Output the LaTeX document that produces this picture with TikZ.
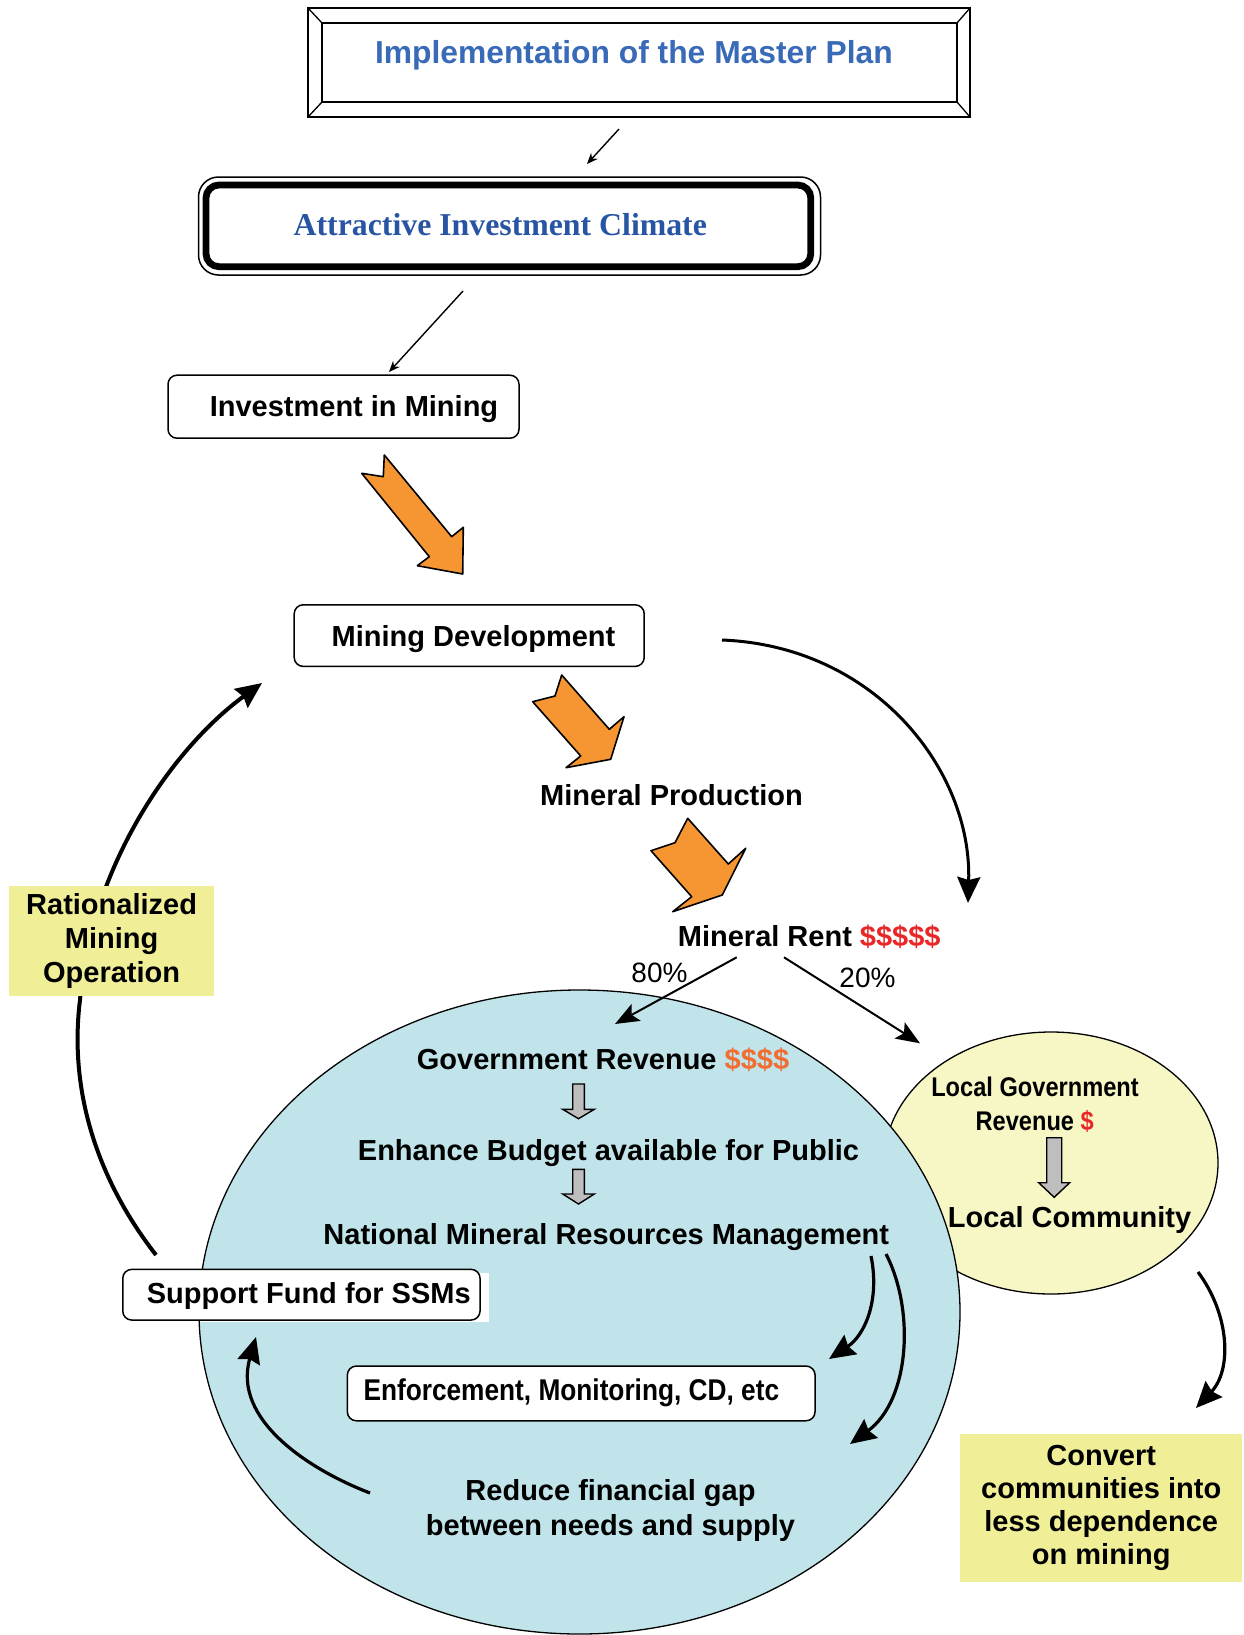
\documentclass[tikz,border=0pt]{standalone}
\usepackage{fontspec}
\setmainfont{Liberation Sans}
\newfontfamily\timesfont{Liberation Serif}
\newfontfamily\narrowfont{Liberation Sans}[FakeStretch=0.875]
\usetikzlibrary{arrows.meta,shapes.geometric}

\definecolor{titleblue}{RGB}{57,106,184}
\definecolor{climateblue}{RGB}{40,84,164}
\definecolor{flowor}{RGB}{245,150,50}
\definecolor{rentred}{RGB}{232,40,40}
\definecolor{revor}{RGB}{240,110,50}
\definecolor{poolblue}{RGB}{192,228,234}
\definecolor{localyel}{RGB}{247,246,197}
\definecolor{tagyel}{RGB}{240,239,152}
\definecolor{blockgray}{RGB}{190,190,190}

\tikzset{
  txt/.style={font=\fontsize{29}{34}\selectfont\bfseries, inner sep=0pt, align=center},
  pct/.style={font=\fontsize{28}{32}\selectfont, inner sep=0pt},
  narrow/.style={font=\narrowfont\bfseries\fontsize{27}{32}\selectfont, inner sep=0pt},
  rbox/.style={draw, line width=1.5pt, rounded corners=9pt, fill=white, inner sep=0pt},
  tag/.style={fill=tagyel, inner sep=0pt, align=center, font=\fontsize{29}{34}\selectfont\bfseries},
  thinarr/.style={line width=1.4pt, -{Stealth[length=11pt,width=9pt]}},
  pctarr/.style={line width=2pt, -{Stealth[length=24pt,width=19pt,inset=5pt]}},
  bigarr/.style={line width=3.2pt, -{Stealth[length=26pt,width=23pt,inset=3pt]}},
  flowblock/.style={draw, line width=1.6pt, fill=flowor, line join=round},
  grayblock/.style={draw, line width=1.4pt, fill=blockgray, line join=miter},
}

\begin{document}
\begin{tikzpicture}[x=1pt,y=-1pt]
\useasboundingbox (0,0) rectangle (1243,1635);

% ---- revenue pools ----
\node[ellipse, draw, line width=1.3pt, fill=localyel, inner sep=0pt,
      minimum width=334pt, minimum height=262pt] (local) at (1051,1163) {};
\node[ellipse, draw, line width=1.3pt, fill=poolblue, inner sep=0pt,
      minimum width=761pt, minimum height=644pt] (govt) at (579.5,1312) {};

% ---- bevelled title frame ----
\draw[line width=2.2pt, fill=white] (308,8) rectangle (970,117);
\draw[line width=2.2pt] (322,23) rectangle (957,102);
\draw[line width=1.3pt] (308,8) -- (322,23) (970,8) -- (957,23)
                        (308,117) -- (322,102) (970,117) -- (957,102);
\node[inner sep=0pt, anchor=base, text=titleblue,
      font=\fontsize{31.8}{36}\selectfont\bfseries] (plan) at (633.9,63.3)
      {Implementation of the Master Plan};

% ---- investment climate frame ----
\draw[line width=1.5pt, rounded corners=20pt] (198.5,177) rectangle (820.5,275);
\draw[line width=6.8pt, rounded corners=13pt] (206,185) rectangle (810.8,266.7);
\node[inner sep=0pt, anchor=base, text=climateblue,
      font=\timesfont\bfseries\fontsize{31.8}{36}\selectfont] (climate) at (500.3,235)
      {Attractive Investment Climate};

% ---- boxes ----
\node[rbox, minimum width=351pt, minimum height=63pt] (invbox) at (343.5,406.7) {};
\node[txt, anchor=base] (inv) at (354,416) {Investment in Mining};

\node[rbox, minimum width=350pt, minimum height=61.6pt] (devbox) at (469.2,635.6) {};
\node[txt, anchor=base] (dev) at (473.5,646.5) {Mining Development};

\node[txt, anchor=base west] (prod) at (540,805) {Mineral Production};
\node[txt, anchor=base west] (rent) at (677.7,946)
      {Mineral Rent \textcolor{rentred}{\$\$\$\$\$}};

\node[pct, anchor=base] (p80) at (659.5,982.7) {80\%};
\node[pct, anchor=base] (p20) at (867.5,987.3) {20\%};

% ---- inside the government pool ----
\node[txt, anchor=base west] (gov) at (416.7,1069.3)
      {Government Revenue \textcolor{revor}{\$\$\$\$}};
\node[txt, anchor=base] (budget) at (608.5,1160) {Enhance Budget available for Public};
\node[txt, anchor=base] (nmrm) at (606.3,1244) {National Mineral Resources Management};

\fill[white] (200,1272.7) rectangle (489,1321.7);
\node[rbox, minimum width=357.3pt, minimum height=50.7pt] (ssmbox) at (301.4,1294.7) {};
\node[txt, anchor=base west] (ssm) at (146.7,1303.3) {Support Fund for SSMs};

\node[rbox, minimum width=467.7pt, minimum height=54.7pt] (enfbox) at (581.2,1393.4) {};
\node[narrow, anchor=base west, font=\narrowfont\bfseries\fontsize{30}{34}\selectfont]
      (enf) at (363.3,1400) {Enforcement, Monitoring, CD, etc};

\node[txt, font=\fontsize{29}{34.3}\selectfont\bfseries] (gap) at (610.5,1510.4)
      {Reduce financial gap\\between needs and supply};

% ---- inside the local pool ----
\node[narrow, anchor=base] (lgr1) at (1035,1096.7) {Local Government};
\node[narrow, anchor=base] (lgr2) at (1034.7,1130.7) {Revenue \textcolor{rentred}{\$}};
\node[txt, anchor=base] (comm) at (1069.5,1227.3) {Local Community};

% ---- side tags ----
\coordinate (loopS) at (156,1255);
\coordinate (loopE) at (262,683);
\draw[bigarr, line width=4pt] (loopS) .. controls (90,1170) and (70,1080) .. (80,1000)
      .. controls (90,870) and (170,750) .. (loopE);
\node[tag, minimum width=204.4pt, minimum height=110pt] (rmo) at (111.6,941)
      {Rationalized\\Mining\\Operation};
\node[tag, minimum width=282.3pt, minimum height=147.7pt,
      font=\fontsize{29}{33.3}\selectfont\bfseries] (conv) at (1101.2,1507.9)
      {Convert\\communities into\\less dependence\\on mining};

% ---- thin connectors ----
\coordinate (a1s) at (619,129);  \coordinate (a1e) at (587,164);
\coordinate (a2s) at (463,291);  \coordinate (a2e) at (389,372);
\draw[thinarr] (a1s) -- (a1e);
\draw[thinarr] (a2s) -- (a2e);

% ---- orange flow arrows ----
\draw[flowblock] (361.7,473.3) -- (383.3,476.7) -- (384.3,455) -- (451.7,536.7)
      -- (463.3,527.3) -- (462.7,574) -- (417.3,565.7) -- (429.3,556.7) -- cycle;
\draw[flowblock] (532.7,701.7) -- (555,696) -- (561.7,675) -- (609.3,729.3)
      -- (624,716.7) -- (610.7,759.3) -- (566,767.7) -- (580.7,756) -- cycle;
\draw[flowblock] (651,850.7) -- (675,842.7) -- (687.7,818.3) -- (728.3,864)
      -- (745.7,848.3) -- (722.3,895) -- (672.7,911.7) -- (691.7,896.7) -- cycle;

% ---- rent split ----
\coordinate (r80s) at (736.7,957.3);  \coordinate (r80e) at (615,1024);
\coordinate (r20s) at (784,957.3);    \coordinate (r20e) at (920,1043.3);
\draw[pctarr] (r80s) -- (r80e);
\draw[pctarr] (r20s) -- (r20e);

% ---- grey block arrows ----
\draw[grayblock] (572.7,1084) -- (584.3,1084) -- (584.3,1109.3) -- (594.3,1109.3)
      -- (578.5,1118.7) -- (562.7,1109.3) -- (572.7,1109.3) -- cycle;
\draw[grayblock] (572.7,1169.3) -- (584.3,1169.3) -- (584.3,1194) -- (594.3,1194)
      -- (578.5,1204) -- (562.7,1194) -- (572.7,1194) -- cycle;
\draw[grayblock] (1046.7,1137.7) -- (1061.7,1137.7) -- (1061.7,1182.7) -- (1069.7,1182.7)
      -- (1054.2,1197.3) -- (1038.7,1182.7) -- (1046.7,1182.7) -- cycle;

% ---- curved connectors ----
\coordinate (mdS) at (722,640);   \coordinate (mdE) at (968,903);
\draw[bigarr, line width=3pt] (mdS) .. controls (875,646) and (972,770) .. (mdE);

\coordinate (aS) at (871,1256);   \coordinate (aE) at (829,1359);
\draw[bigarr] (aS) .. controls (880,1300) and (865,1335) .. (aE);
\coordinate (bS) at (886,1254);   \coordinate (bE) at (850,1444);
\draw[bigarr] (bS) .. controls (915,1310) and (910,1400) .. (bE);

\coordinate (gS) at (370,1493);   \coordinate (gE) at (256,1337);
\draw[bigarr] (gS) .. controls (310,1470) and (232,1420) .. (gE);

\coordinate (cS) at (1198,1272);  \coordinate (cE) at (1196,1408);
\draw[bigarr] (cS) .. controls (1230,1315) and (1232,1370) .. (cE);

\end{tikzpicture}
\end{document}
